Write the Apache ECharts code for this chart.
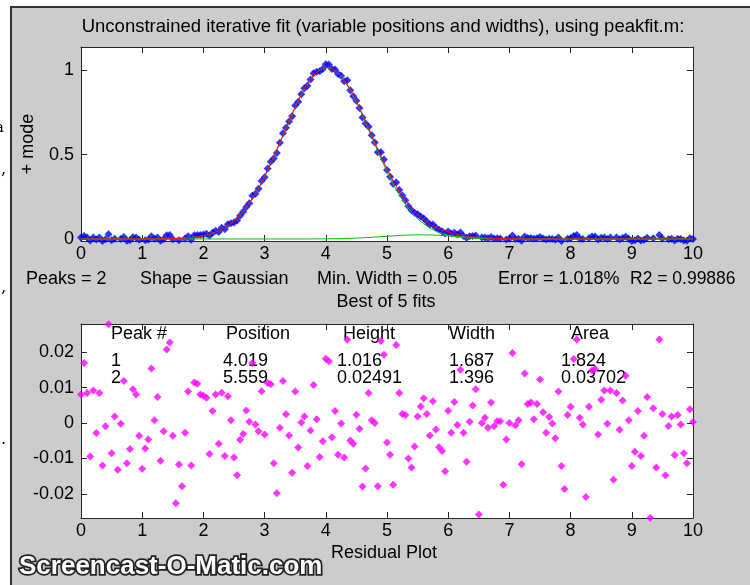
<!DOCTYPE html>
<html><head><meta charset="utf-8">
<script src="https://cdn.jsdelivr.net/npm/echarts@6/dist/echarts.min.js"></script>
<style>html,body{margin:0;padding:0;background:#fff}#c{width:750px;height:585px}</style>
</head><body><div id="c"></div><script>
// ---------- data ----------
var sampleX = [0,0.05,0.1,0.15,0.2,0.25,0.3,0.35,0.4,0.45,0.5,0.55,0.6,0.65,0.7,0.75,0.8,0.85,0.9,0.95,
1,1.05,1.1,1.15,1.2,1.25,1.3,1.35,1.4,1.45,1.5,1.55,1.6,1.65,1.7,1.75,1.8,1.85,1.9,1.95,
2,2.05,2.1,2.15,2.2,2.25,2.3,2.35,2.4,2.45,2.5,2.55,2.6,2.65,2.7,2.75,2.8,2.85,2.9,2.95,
3,3.05,3.1,3.15,3.2,3.25,3.3,3.35,3.4,3.45,3.5,3.55,3.6,3.65,3.7,3.75,3.8,3.85,3.9,3.95,
4,4.05,4.1,4.15,4.2,4.25,4.3,4.35,4.4,4.45,4.5,4.55,4.6,4.65,4.7,4.75,4.8,4.85,4.9,4.95,
5,5.05,5.1,5.15,5.2,5.25,5.3,5.35,5.4,5.45,5.5,5.55,5.6,5.65,5.7,5.75,5.8,5.85,5.9,5.95,
6,6.05,6.1,6.15,6.2,6.25,6.3,6.35,6.4,6.45,6.5,6.55,6.6,6.65,6.7,6.75,6.8,6.85,6.9,6.95,
7,7.05,7.1,7.15,7.2,7.25,7.3,7.35,7.4,7.45,7.5,7.55,7.6,7.65,7.7,7.75,7.8,7.85,7.9,7.95,
8,8.05,8.1,8.15,8.2,8.25,8.3,8.35,8.4,8.45,8.5,8.55,8.6,8.65,8.7,8.75,8.8,8.85,8.9,8.95,
9,9.05,9.1,9.15,9.2,9.25,9.3,9.35,9.4,9.45,9.5,9.55,9.6,9.65,9.7,9.75,9.8,9.85,9.9,9.95,10];

var signalY = [0.008,0.017,0.009,-0.009,0.009,-0.003,0.008,-0.012,-0.001,0.028,
-0.008,0.002,-0.013,0.000,0.012,-0.011,-0.007,0.010,0.008,-0.004,
-0.013,-0.007,-0.005,0.016,0.001,0.008,-0.010,-0.001,0.022,0.024,
-0.002,-0.020,-0.008,-0.014,0.003,0.016,-0.004,0.022,0.024,0.024,
0.027,0.031,0.019,0.037,0.049,0.042,0.066,0.058,0.087,0.093,
0.098,0.109,0.138,0.161,0.190,0.212,0.256,0.268,0.298,0.343,
0.366,0.418,0.457,0.476,0.509,0.570,0.626,0.659,0.696,0.727,
0.790,0.813,0.857,0.892,0.908,0.945,0.981,0.990,0.993,1.007,
1.035,1.034,1.007,1.004,0.977,0.967,0.934,0.940,0.881,0.846,
0.819,0.776,0.720,0.684,0.664,0.614,0.572,0.513,0.514,0.471,
0.408,0.369,0.327,0.334,0.290,0.257,0.230,0.194,0.170,0.156,
0.147,0.133,0.121,0.103,0.086,0.085,0.067,0.054,0.046,0.033,
0.045,0.033,0.037,0.027,0.039,0.018,0.007,0.016,0.018,0.021,
-0.016,0.008,0.008,0.004,0.011,0.003,0.004,0.003,-0.015,-0.003,
0.001,0.021,0.000,0.002,-0.011,0.014,0.006,0.006,0.001,0.005,
0.012,0.003,-0.003,0.002,0.000,-0.004,0.009,-0.012,-0.019,0.002,
0.005,0.018,0.024,0.002,0.000,-0.021,0.005,0.015,0.015,-0.003,
0.007,0.009,0.000,0.009,-0.016,0.009,-0.002,0.006,0.013,0.001,
-0.012,-0.008,0.003,-0.009,-0.004,0.007,-0.027,0.004,-0.013,0.024,
0.003,-0.015,-0.001,0.002,-0.009,0.002,0.000,-0.009,-0.011,0.004,
0.000];

var residualY = [0.0081,0.0170,0.0085,-0.0094,0.0092,-0.0028,0.0085,-0.0120,-0.0009,0.0279,
-0.0085,0.0019,-0.0132,-0.0002,0.0119,-0.0113,-0.0073,0.0096,0.0081,-0.0036,
-0.0129,-0.0072,-0.0046,0.0154,0.0008,0.0074,-0.0106,-0.0023,0.0208,0.0228,
-0.0036,-0.0226,-0.0117,-0.0178,-0.0027,0.0089,-0.0120,0.0115,0.0111,0.0081,
0.0077,0.0072,-0.0087,0.0034,0.0081,-0.0058,0.0086,-0.0093,0.0076,0.0008,
-0.0097,-0.0147,-0.0047,-0.0031,0.0036,0.0004,0.0170,-0.0004,-0.0023,0.0090,
-0.0032,0.0113,0.0110,-0.0113,-0.0198,-0.0013,0.0119,0.0025,-0.0035,-0.0140,
0.0089,-0.0069,0.0002,0.0019,-0.0121,-0.0021,0.0108,0.0011,-0.0096,-0.0051,
0.0182,0.0175,-0.0040,0.0034,-0.0089,-0.0001,-0.0097,0.0236,-0.0049,-0.0058,
0.0024,-0.0016,-0.0179,-0.0128,0.0085,0.0008,0.0000,-0.0178,0.0232,0.0193,
-0.0055,-0.0089,-0.0174,0.0221,0.0085,0.0026,0.0023,-0.0100,-0.0125,-0.0066,
0.0019,0.0047,0.0070,0.0026,-0.0035,0.0062,-0.0018,-0.0068,-0.0079,-0.0136,
0.0035,-0.0027,0.0060,-0.0005,0.0151,-0.0027,-0.0109,0.0004,0.0050,0.0096,
-0.0258,0.0000,0.0015,-0.0013,0.0058,-0.0009,0.0005,0.0005,-0.0174,-0.0046,
0.0000,0.0198,-0.0006,0.0008,-0.0116,0.0140,0.0054,0.0058,0.0011,0.0054,
0.0123,0.0031,-0.0027,0.0017,-0.0001,-0.0043,0.0089,-0.0121,-0.0186,0.0023,
0.0046,0.0181,0.0236,0.0015,-0.0004,-0.0209,0.0046,0.0149,0.0153,-0.0032,
0.0066,0.0092,-0.0002,0.0092,-0.0160,0.0085,-0.0019,0.0064,0.0134,0.0008,
-0.0121,-0.0081,0.0034,-0.0093,-0.0036,0.0074,-0.0268,0.0042,-0.0125,0.0236,
0.0026,-0.0147,-0.0008,0.0019,-0.0090,0.0023,-0.0004,-0.0085,-0.0113,0.0039,
0.0003];

var fitX = [0,1.2,1.3,1.4,1.5,1.6,1.7,1.8,1.9,2,2.1,2.2,2.3,2.4,2.5,2.6,2.7,2.8,2.9,3,3.1,3.2,3.3,3.4,3.5,3.6,3.7,3.8,3.9,
4,4.1,4.2,4.3,4.4,4.5,4.6,4.7,4.8,4.9,5,5.1,5.2,5.3,5.4,5.5,5.6,5.7,5.8,5.9,6,6.1,6.2,6.3,6.4,6.5,6.6,6.7,6.8,6.9,7,7.2,7.5,10];
var fitTotalY = [0,0.0004,0.0008,0.0013,0.0021,0.0034,0.0054,0.0084,0.0128,0.0192,0.0281,0.0405,0.0571,0.0791,0.1073,0.1430,0.1866,0.2389,0.3000,0.3695,0.4463,0.5286,0.6140,0.6995,0.7816,0.8564,0.9203,0.9699,1.0026,
1.0164,1.0107,0.9859,0.9434,0.8857,0.8161,0.7379,0.6554,0.5719,0.4904,0.4139,0.3440,0.2818,0.2280,0.1825,0.1447,0.1139,0.0890,0.0691,0.0535,0.0411,0.0314,0.0238,0.0178,0.0132,0.0096,0.0068,0.0047,0.0033,0.0022,0.0014,0.0006,0.0001,0];
var peak1Y = [0,0.0004,0.0008,0.0013,0.0021,0.0034,0.0054,0.0084,0.0128,0.0192,0.0281,0.0405,0.0571,0.0791,0.1073,0.1430,0.1866,0.2389,0.3000,0.3695,0.4463,0.5286,0.6140,0.6994,0.7815,0.8563,0.9201,0.9696,1.0021,
1.0156,1.0095,0.9841,0.9408,0.8820,0.8110,0.7312,0.6467,0.5609,0.4770,0.3979,0.3255,0.2611,0.2054,0.1585,0.1199,0.0890,0.0648,0.0462,0.0324,0.0222,0.0150,0.0099,0.0064,0.0041,0.0025,0.0015,0.0009,0.0005,0.0003,0.0001,0,0,0];
var peak2X = [0,3.5,3.75,4,4.25,4.5,4.75,5,5.25,5.5,5.75,6,6.25,6.5,6.75,7,7.25,7.5,10];
var peak2Y = [0,0.0001,0.0002,0.0008,0.0022,0.0051,0.0098,0.0160,0.0217,0.0248,0.0236,0.0189,0.0126,0.0071,0.0033,0.0013,0.0004,0.0001,0];

var xTicks = [0,1,2,3,4,5,6,7,8,9,10];
var topYTicks = [0,0.5,1];
var resYTicks = [-0.02,-0.01,0,0.01,0.02];

var tableHeader = ['Peak #','Position','Height','Width','Area'];
var tableRow1 = ['1','4.019','1.016','1.687','1.824'];
var tableRow2 = ['2','5.559','0.02491','1.396','0.03702'];
var infoParts = ['Peaks = 2','Shape = Gaussian','Min. Width = 0.05','Error = 1.018%','R2 = 0.99886'];

// ---------- helpers ----------
function pairs(xs, ys){ var o=[]; for(var i=0;i<xs.length;i++) o.push([xs[i], ys[i]]); return o; }
var FONT = 'Liberation Sans, Arial, sans-serif';
var FS = 18;

function mkX(grid, pos, showLabel){
  return {type:'value', gridIndex:grid, position:pos, min:0, max:10, interval:1,
    axisLine:{show:true, onZero:false, lineStyle:{color:'#262626', width:1}},
    axisTick:{show:true, inside:true, length:6, lineStyle:{color:'#262626'}},
    axisLabel:{show:showLabel, margin:4, color:'#000', fontSize:FS, fontFamily:FONT},
    splitLine:{show:false}};
}
function mkY(grid, pos, showLabel, min, max, ticks){
  return {type:'value', gridIndex:grid, position:pos, min:min, max:max,
    axisLine:{show:true, onZero:false, lineStyle:{color:'#262626', width:1}},
    axisTick:{show:true, inside:true, length:6, customValues:ticks, lineStyle:{color:'#262626'}},
    axisLabel:{show:showLabel, margin:7, customValues:ticks, color:'#000', fontSize:FS, fontFamily:FONT,
      formatter:function(v){ return String(+v.toFixed(4)); }},
    splitLine:{show:false}};
}
function txt(t, x, y, opt){
  opt = opt || {};
  return {type:'text', x:x, y:y, z: opt.z || 1, rotation: opt.rotation || 0,
    style:{text:t, x:0, y:0, fill: opt.fill || '#000', font: opt.font || (FS+'px '+FONT),
      align: opt.align || 'left', verticalAlign: 'middle',
      stroke: opt.stroke, lineWidth: opt.lineWidth || 0}};
}

var tableCols = [111, 226, 343, 449, 571];
var tableCols2 = [111, 223, 337, 449, 561];
var infoX = [26, 140, 317, 498, 630];

var graphics = [
  {type:'rect', z:0, shape:{x:0,y:0,width:10,height:585}, style:{fill:'#fff'}},
  {type:'rect', z:0, shape:{x:0,y:0,width:750,height:6}, style:{fill:'#fff'}},
  {type:'rect', z:0, shape:{x:10,y:6,width:2,height:579}, style:{fill:'#333'}},
  {type:'rect', z:0, shape:{x:10,y:6,width:740,height:2}, style:{fill:'#333'}},
  txt('a', -5, 128, {font:'15px DejaVu Serif'}),
  txt(',', 1, 170, {font:'16px DejaVu Serif'}),
  txt(',', 1, 288, {font:'17px DejaVu Serif'}),
  txt('.', 1, 440, {font:'16px DejaVu Serif'}),
  txt('Unconstrained iterative fit (variable positions and widths), using peakfit.m:', 383, 27, {align:'center', font:'18.5px '+FONT}),
  txt('+ mode', 28, 144, {align:'center', rotation:Math.PI/2}),
  txt('Best of 5 fits', 386, 302, {align:'center'}),
  txt('Residual Plot', 384, 553, {align:'center'}),
  txt('Screencast-O-Matic.com', 19, 567, {font:'bold 26px '+FONT, fill:'#fff', stroke:'#222', lineWidth:3.5, z:5})
];
infoParts.forEach(function(s,i){ graphics.push(txt(s, infoX[i], 279, i===4 ? {font:'17.5px '+FONT} : null)); });
tableHeader.forEach(function(s,i){ graphics.push(txt(s, tableCols[i], 334)); });
tableRow1.forEach(function(s,i){ graphics.push(txt(s, tableCols2[i], 361)); });
tableRow2.forEach(function(s,i){ graphics.push(txt(s, tableCols2[i], 378)); });

var chart = echarts.init(document.getElementById('c'), null, {renderer:'canvas'});
chart.setOption({
  animation:false,
  backgroundColor:'#CCCCCC',
  grid:[
    {left:81, top:47, width:612, height:194, show:true, backgroundColor:'#fff', borderWidth:0},
    {left:81, top:324, width:612, height:194, show:true, backgroundColor:'#fff', borderWidth:0}
  ],
  xAxis:[ mkX(0,'bottom',true), mkX(0,'top',false), mkX(1,'bottom',true), mkX(1,'top',false) ],
  yAxis:[ mkY(0,'left',true,-0.012,1.137,topYTicks), mkY(0,'right',false,-0.012,1.137,topYTicks),
          mkY(1,'left',true,-0.0268,0.028,resYTicks), mkY(1,'right',false,-0.0268,0.028,resYTicks) ],
  graphic:{elements:graphics},
  series:[
    {type:'scatter', xAxisIndex:0, yAxisIndex:0, data:pairs(sampleX, signalY), symbol:'diamond', symbolSize:[8,8],
      itemStyle:{color:'#0000FF'}, clip:true, z:2, silent:true},
    {type:'line', xAxisIndex:0, yAxisIndex:0, data:pairs(fitX, peak1Y), showSymbol:false, symbol:'none',
      lineStyle:{color:'#00C800', width:1}, z:3, silent:true},
    {type:'line', xAxisIndex:0, yAxisIndex:0, data:pairs(peak2X, peak2Y), showSymbol:false, symbol:'none',
      lineStyle:{color:'#00C800', width:1}, z:3, silent:true},
    {type:'line', xAxisIndex:0, yAxisIndex:0, data:pairs(fitX, fitTotalY), showSymbol:false, symbol:'none',
      lineStyle:{color:'#FF0000', width:1}, z:4, silent:true},
    {type:'scatter', xAxisIndex:2, yAxisIndex:2, data:pairs(sampleX, residualY), symbol:'diamond', symbolSize:[8,8],
      itemStyle:{color:'#FF00FF'}, clip:true, z:2, silent:true}
  ]
});
</script></body></html>
